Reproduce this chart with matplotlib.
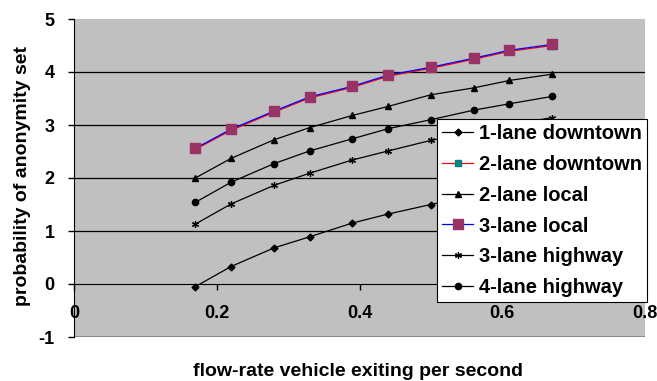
import numpy as np
import matplotlib.pyplot as plt

plt.rcParams['font.family'] = ['Liberation Sans', 'DejaVu Sans']
plt.rcParams['font.weight'] = 'bold'
plt.rcParams['axes.unicode_minus'] = False

flow_rate = [0.17, 0.22, 0.28, 0.33, 0.39, 0.44, 0.50, 0.56, 0.61, 0.67]

lane1_downtown = [-0.05, 0.33, 0.68, 0.89, 1.15, 1.32, 1.50, 1.67, 1.82, 1.96]
lane2_downtown = [2.54, 2.90, 3.24, 3.51, 3.71, 3.92, 4.07, 4.24, 4.39, 4.50]
lane2_local = [2.00, 2.37, 2.72, 2.95, 3.18, 3.35, 3.57, 3.70, 3.84, 3.96]
lane3_local = [2.56, 2.92, 3.26, 3.53, 3.73, 3.94, 4.09, 4.26, 4.41, 4.52]
lane3_highway = [1.13, 1.51, 1.86, 2.09, 2.34, 2.51, 2.71, 2.86, 3.00, 3.14]
lane4_highway = [1.54, 1.92, 2.27, 2.51, 2.74, 2.93, 3.10, 3.28, 3.40, 3.54]

xticks = [0, 0.2, 0.4, 0.6, 0.8]
xticklabels = ['0', '0.2', '0.4', '0.6', '0.8']
yticks = [-1, 0, 1, 2, 3, 4, 5]

fig = plt.figure(figsize=(6.57, 3.81), dpi=100)
ax = fig.add_axes([74/657, 44/381, 571/657, 318/381])
ax.set_facecolor('#C0C0C0')

for y in [1, 2, 3, 4]:
    ax.axhline(y, color='black', lw=0.9, zorder=1)
ax.axhline(-1, color='#808080', lw=1.2, zorder=1)

ax.plot(flow_rate, lane1_downtown, color='black', lw=0.9, marker='D', ms=3.5, label='1-lane downtown', zorder=3)
ax.plot(flow_rate, lane2_downtown, color='red', lw=0.9, marker='s', ms=4, mfc='#008080', mec='#008080', label='2-lane downtown', zorder=3)
ax.plot(flow_rate, lane2_local, color='black', lw=0.9, marker='^', ms=4.5, label='2-lane local', zorder=3)
ax.plot(flow_rate, lane3_local, color='blue', lw=0.9, marker='s', ms=7, mfc='#993366', mec='#993366', label='3-lane local', zorder=4)
ax.plot(flow_rate, lane3_highway, color='black', lw=0.9, marker=(6, 2, 0), ms=5, mew=0.9, label='3-lane highway', zorder=3)
ax.plot(flow_rate, lane4_highway, color='black', lw=0.9, marker='o', ms=4.5, label='4-lane highway', zorder=3)

ax.set_xlim(0, 0.8)
ax.set_ylim(-1, 5)
ax.set_xticks(xticks)
ax.set_xticklabels(xticklabels)
ax.set_yticks(yticks)

for s in ['top', 'right']:
    ax.spines[s].set_visible(False)
ax.spines['bottom'].set_position(('data', 0))
ax.spines['bottom'].set_zorder(2)
ax.tick_params(axis='x', direction='out', length=4, width=1, pad=11, labelsize=13)
ax.tick_params(axis='y', direction='out', length=4, width=1, pad=10, labelsize=13)

fig.text(23/657, 1 - 176/381, 'probability of anonymity set', rotation=90,
         ha='center', va='center', fontsize=14, fontweight='bold')
fig.text(358/657, 1 - 371/381, 'flow-rate vehicle exiting per second',
         ha='center', va='center', fontsize=14, fontweight='bold')

leg = ax.legend(loc='upper right', bbox_to_anchor=(1.003, 0.686), fontsize=14.5,
                frameon=True, fancybox=False, framealpha=1, edgecolor='black',
                borderpad=0.25, labelspacing=0.59, handlelength=1.5, handletextpad=0.3,
                borderaxespad=0)
leg.get_frame().set_linewidth(0.8)
leg.set_zorder(5)

fig.savefig('out.png', dpi=100)
